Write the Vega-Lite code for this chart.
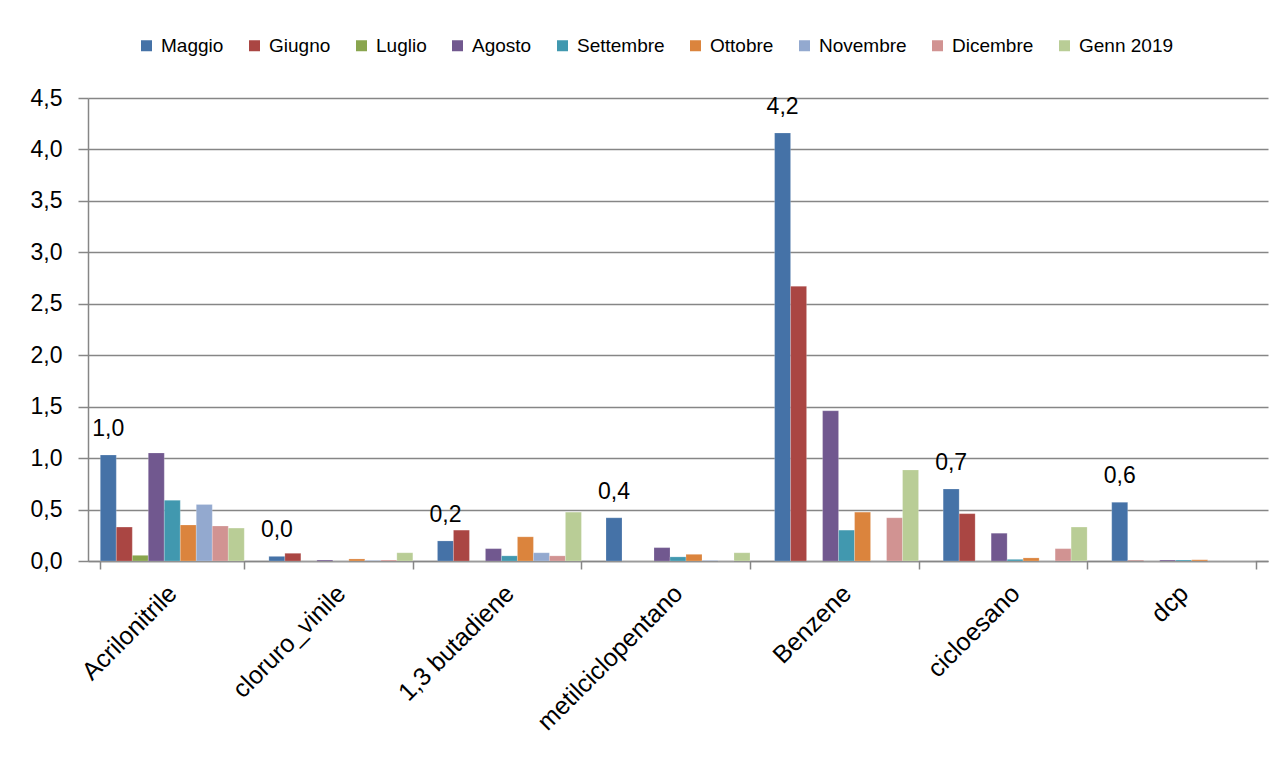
{
  "$schema": "https://vega.github.io/schema/vega-lite/v6.json",
  "autosize": {"type": "none"},
  "width": 1180,
  "height": 463,
  "padding": {"left": 88, "top": 98, "right": 16, "bottom": 199},
  "background": "white",
  "config": {
    "locale": {"number": {"decimal": ",", "thousands": ".", "grouping": [3], "currency": ["€", ""]}},
    "view": {"stroke": null},
    "font": "Liberation Sans"
  },
  "data": {
    "values": [
      {"sostanza": "Acrilonitrile", "mese": "Maggio", "valore": 1.03},
      {"sostanza": "Acrilonitrile", "mese": "Giugno", "valore": 0.33},
      {"sostanza": "Acrilonitrile", "mese": "Luglio", "valore": 0.055},
      {"sostanza": "Acrilonitrile", "mese": "Agosto", "valore": 1.05},
      {"sostanza": "Acrilonitrile", "mese": "Settembre", "valore": 0.59},
      {"sostanza": "Acrilonitrile", "mese": "Ottobre", "valore": 0.35},
      {"sostanza": "Acrilonitrile", "mese": "Novembre", "valore": 0.55},
      {"sostanza": "Acrilonitrile", "mese": "Dicembre", "valore": 0.34},
      {"sostanza": "Acrilonitrile", "mese": "Genn 2019", "valore": 0.32},
      {"sostanza": "cloruro_vinile", "mese": "Maggio", "valore": 0.045},
      {"sostanza": "cloruro_vinile", "mese": "Giugno", "valore": 0.075},
      {"sostanza": "cloruro_vinile", "mese": "Luglio", "valore": 0},
      {"sostanza": "cloruro_vinile", "mese": "Agosto", "valore": 0.01},
      {"sostanza": "cloruro_vinile", "mese": "Settembre", "valore": 0},
      {"sostanza": "cloruro_vinile", "mese": "Ottobre", "valore": 0.02},
      {"sostanza": "cloruro_vinile", "mese": "Novembre", "valore": 0.005},
      {"sostanza": "cloruro_vinile", "mese": "Dicembre", "valore": 0.01},
      {"sostanza": "cloruro_vinile", "mese": "Genn 2019", "valore": 0.08},
      {"sostanza": "1,3 butadiene", "mese": "Maggio", "valore": 0.195},
      {"sostanza": "1,3 butadiene", "mese": "Giugno", "valore": 0.3},
      {"sostanza": "1,3 butadiene", "mese": "Luglio", "valore": 0},
      {"sostanza": "1,3 butadiene", "mese": "Agosto", "valore": 0.12},
      {"sostanza": "1,3 butadiene", "mese": "Settembre", "valore": 0.05},
      {"sostanza": "1,3 butadiene", "mese": "Ottobre", "valore": 0.235},
      {"sostanza": "1,3 butadiene", "mese": "Novembre", "valore": 0.08},
      {"sostanza": "1,3 butadiene", "mese": "Dicembre", "valore": 0.05},
      {"sostanza": "1,3 butadiene", "mese": "Genn 2019", "valore": 0.475},
      {"sostanza": "metilciclopentano", "mese": "Maggio", "valore": 0.42},
      {"sostanza": "metilciclopentano", "mese": "Giugno", "valore": 0},
      {"sostanza": "metilciclopentano", "mese": "Luglio", "valore": 0},
      {"sostanza": "metilciclopentano", "mese": "Agosto", "valore": 0.13},
      {"sostanza": "metilciclopentano", "mese": "Settembre", "valore": 0.04},
      {"sostanza": "metilciclopentano", "mese": "Ottobre", "valore": 0.065},
      {"sostanza": "metilciclopentano", "mese": "Novembre", "valore": 0.005},
      {"sostanza": "metilciclopentano", "mese": "Dicembre", "valore": 0},
      {"sostanza": "metilciclopentano", "mese": "Genn 2019", "valore": 0.08},
      {"sostanza": "Benzene", "mese": "Maggio", "valore": 4.16},
      {"sostanza": "Benzene", "mese": "Giugno", "valore": 2.67},
      {"sostanza": "Benzene", "mese": "Luglio", "valore": 0},
      {"sostanza": "Benzene", "mese": "Agosto", "valore": 1.46},
      {"sostanza": "Benzene", "mese": "Settembre", "valore": 0.3},
      {"sostanza": "Benzene", "mese": "Ottobre", "valore": 0.475},
      {"sostanza": "Benzene", "mese": "Novembre", "valore": 0},
      {"sostanza": "Benzene", "mese": "Dicembre", "valore": 0.42},
      {"sostanza": "Benzene", "mese": "Genn 2019", "valore": 0.885},
      {"sostanza": "cicloesano", "mese": "Maggio", "valore": 0.7},
      {"sostanza": "cicloesano", "mese": "Giugno", "valore": 0.46},
      {"sostanza": "cicloesano", "mese": "Luglio", "valore": 0},
      {"sostanza": "cicloesano", "mese": "Agosto", "valore": 0.27},
      {"sostanza": "cicloesano", "mese": "Settembre", "valore": 0.016},
      {"sostanza": "cicloesano", "mese": "Ottobre", "valore": 0.03},
      {"sostanza": "cicloesano", "mese": "Novembre", "valore": 0},
      {"sostanza": "cicloesano", "mese": "Dicembre", "valore": 0.12},
      {"sostanza": "cicloesano", "mese": "Genn 2019", "valore": 0.33},
      {"sostanza": "dcp", "mese": "Maggio", "valore": 0.57},
      {"sostanza": "dcp", "mese": "Giugno", "valore": 0.005},
      {"sostanza": "dcp", "mese": "Luglio", "valore": 0},
      {"sostanza": "dcp", "mese": "Agosto", "valore": 0.01},
      {"sostanza": "dcp", "mese": "Settembre", "valore": 0.01},
      {"sostanza": "dcp", "mese": "Ottobre", "valore": 0.012},
      {"sostanza": "dcp", "mese": "Novembre", "valore": 0},
      {"sostanza": "dcp", "mese": "Dicembre", "valore": 0},
      {"sostanza": "dcp", "mese": "Genn 2019", "valore": 0}
    ]
  },
  "encoding": {
    "x": {
      "field": "sostanza",
      "type": "nominal",
      "sort": null,
      "scale": {"paddingInner": 0.146, "paddingOuter": 0.073},
      "axis": {
        "title": null,
        "labelAngle": -45,
        "labelAlign": "right",
        "labelBaseline": "middle",
        "labelFontSize": 25,
        "labelLimit": 0,
        "labelColor": "black",
        "labelPadding": 20,
        "domainColor": "#868686",
        "domainWidth": 1.5,
        "tickColor": "#868686",
        "tickWidth": 1.5,
        "tickSize": 8,
        "tickBand": "extent"
      }
    },
    "xOffset": {
      "field": "mese",
      "type": "nominal",
      "sort": ["Maggio", "Giugno", "Luglio", "Agosto", "Settembre", "Ottobre", "Novembre", "Dicembre", "Genn 2019"],
      "scale": {"paddingInner": 0, "paddingOuter": 0}
    },
    "y": {
      "field": "valore",
      "type": "quantitative",
      "scale": {"domain": [0, 4.5], "nice": false},
      "axis": {
        "title": null,
        "values": [0, 0.5, 1, 1.5, 2, 2.5, 3, 3.5, 4, 4.5],
        "format": ".1f",
        "labelFontSize": 23,
        "labelColor": "black",
        "labelPadding": 16,
        "gridColor": "#868686",
        "gridWidth": 1.5,
        "domainColor": "#868686",
        "domainWidth": 1.5,
        "tickColor": "#868686",
        "tickWidth": 1.5,
        "tickSize": 10
      }
    }
  },
  "layer": [
    {
      "mark": {"type": "bar", "stroke": "white", "strokeOpacity": 0.4, "strokeWidth": 0.5},
      "encoding": {
        "color": {
          "field": "mese",
          "type": "nominal",
          "sort": ["Maggio", "Giugno", "Luglio", "Agosto", "Settembre", "Ottobre", "Novembre", "Dicembre", "Genn 2019"],
          "scale": {
            "domain": ["Maggio", "Giugno", "Luglio", "Agosto", "Settembre", "Ottobre", "Novembre", "Dicembre", "Genn 2019"],
            "range": ["#4572A7", "#AA4643", "#89A54E", "#71588F", "#4198AF", "#DB843D", "#93A9CF", "#D19392", "#B9CD96"]
          },
          "legend": {
            "title": null,
            "orient": "none",
            "legendX": 49,
            "legendY": -62,
            "direction": "horizontal",
            "columns": 9,
            "symbolType": "square",
            "symbolSize": 121,
            "symbolStrokeWidth": 0,
            "labelFontSize": 19,
            "labelColor": "black",
            "labelOffset": 5,
            "columnPadding": 21
          }
        }
      }
    },
    {
      "transform": [{"filter": "datum.mese === 'Maggio'"}],
      "mark": {"type": "text", "fontSize": 23, "baseline": "alphabetic", "dy": -19, "color": "black"},
      "encoding": {
        "text": {"field": "valore", "type": "quantitative", "format": ".1f"}
      }
    }
  ]
}
